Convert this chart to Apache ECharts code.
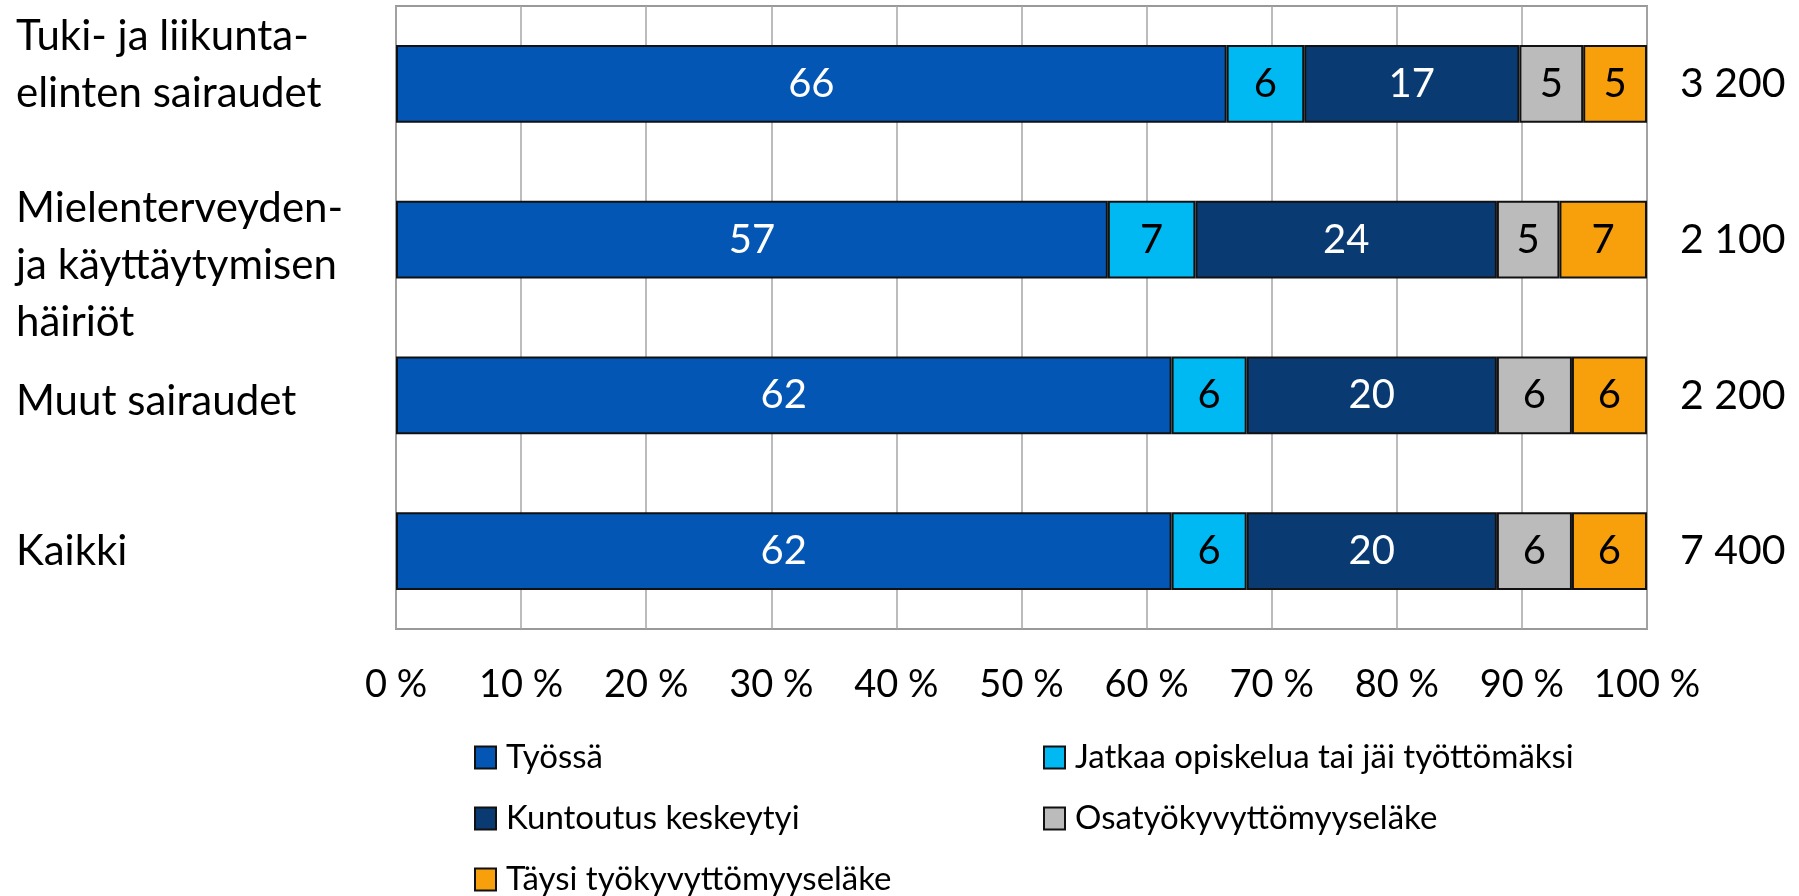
<!DOCTYPE html>
<html>
<head>
<meta charset="utf-8">
<script src="https://cdn.jsdelivr.net/npm/echarts@6/dist/echarts.min.js"></script>
<style>
  html, body { margin: 0; padding: 0; background: #fff; }
  #chart { width: 1799px; height: 896px; }
</style>
</head>
<body>
<div id="chart"></div>
<script>
// data
var categories = ['Tuki- ja liikunta-\nelinten sairaudet', 'Mielenterveyden-\nja käyttäytymisen\nhäiriöt', 'Muut sairaudet', 'Kaikki'];
var totals = ['3 200', '2 100', '2 200', '7 400'];
var seriesNames = ['Työssä', 'Jatkaa opiskelua tai jäi työttömäksi', 'Kuntoutus keskeytyi', 'Osatyökyvyttömyyseläke', 'Täysi työkyvyttömyyseläke'];
var tyossa = [66.4, 56.9, 62, 62];
var jatkaa = [6.2, 7.0, 6, 6];
var kuntoutus = [17.2, 24.1, 20, 20];
var osa = [5.1, 5.0, 6, 6];
var taysi = [5.1, 7.0, 6, 6];
var xTicks = [0, 10, 20, 30, 40, 50, 60, 70, 80, 90, 100];

var renderChart = function () {
  var font = 'Lato';
  var colors = ['#0456B4', '#00B9F2', '#0A3A72', '#BBBBBB', '#F7A00C'];
  var labelColors = ['#fff', '#000', '#fff', '#000', '#000'];
  var values = [tyossa, jatkaa, kuntoutus, osa, taysi];

  // excel puts the multi-line labels a bit off the bar centre,
  // mimic it with an empty spacer line above or below
  var shift = [-19, 26, 6, 0];
  var rich = {};
  shift.forEach((s, i) => {
    rich['g' + i] = { lineHeight: Math.max(1, Math.abs(2 * s)), fontSize: 1 };
  });
  var catFormatter = function (value, index) {
    var s = shift[index];
    if (s < 0) return value + '\n{g' + index + '| }';
    if (s > 0) return '{g' + index + '| }\n' + value;
    return value;
  };

  var series = seriesNames.map((name, i) => {
    return {
      name: name,
      type: 'bar',
      stack: 'all',
      barWidth: '50%',
      data: values[i],
      itemStyle: { color: colors[i], borderColor: '#111', borderWidth: 2 },
      label: {
        show: true,
        position: 'inside',
        fontFamily: font,
        fontSize: 40,
        color: labelColors[i],
        formatter: p => Math.round(p.value)
      }
    };
  });

  // one legend per item so they sit in excel's two-column grid
  var legendPos = [[474, 741], [1043, 741], [474, 802], [1043, 802], [474, 863]];
  var legends = seriesNames.map((name, i) => {
    return {
      data: [name],
      left: legendPos[i][0],
      top: legendPos[i][1],
      padding: 0,
      icon: 'rect',
      itemWidth: 21,
      itemHeight: 22,
      textStyle: { fontFamily: font, fontSize: 33, lineHeight: 24, color: '#000', padding: [0, 0, 0, 5] },
      itemStyle: { borderColor: '#111', borderWidth: 2 }
    };
  });

  var option = {
    backgroundColor: '#fff',
    animation: false,
    color: colors,
    grid: {
      left: 396, right: 152, top: 6, bottom: 267,
      outerBoundsMode: 'none',
      containLabel: false,
      show: true, borderColor: '#999', borderWidth: 2
    },
    legend: legends,
    xAxis: {
      type: 'value',
      min: xTicks[0],
      max: xTicks[xTicks.length - 1],
      interval: xTicks[1] - xTicks[0],
      axisLine: { show: false },
      axisTick: { show: false },
      splitLine: { show: true, lineStyle: { color: '#A6A6A6', width: 1.5 } },
      axisLabel: {
        margin: 37,
        fontFamily: font,
        fontSize: 38,
        color: '#000',
        formatter: '{value} %'
      }
    },
    yAxis: [
      {
        type: 'category',
        inverse: true,
        data: categories,
        axisLine: { show: false },
        axisTick: { show: false },
        axisLabel: {
          interval: 0,
          hideOverlap: false,
          align: 'left',
          margin: 380,
          fontFamily: font,
          fontSize: 42,
          lineHeight: 57,
          color: '#000',
          formatter: catFormatter,
          rich: rich
        }
      },
      {
        type: 'category',
        inverse: true,
        position: 'right',
        data: totals,
        axisLine: { show: false },
        axisTick: { show: false },
        splitLine: { show: false },
        axisLabel: {
          interval: 0,
          hideOverlap: false,
          margin: 33,
          fontFamily: font,
          fontSize: 41,
          color: '#000'
        }
      }
    ],
    series: series
  };

  var myChart = echarts.init(document.getElementById('chart'));
  myChart.setOption(option);
};

renderChart();
</script>
</body>
</html>
